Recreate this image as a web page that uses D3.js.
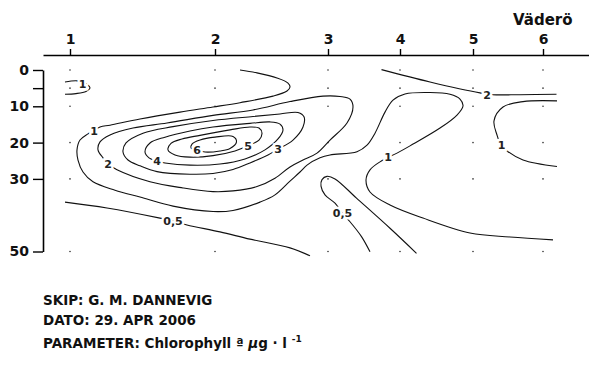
<!DOCTYPE html>
<html><head><meta charset="utf-8">
<script src="https://cdn.jsdelivr.net/npm/d3@7"></script>
<style>
html,body{margin:0;padding:0;background:#fff;}
svg{display:block;font-family:"DejaVu Sans",sans-serif;}
</style></head>
<body><svg id="c" width="589" height="367"></svg>
<script>
// ---- data ----
const stations = ["1","2","3","4","5","6"];
const stationDist = [0, 29, 51.6, 66, 80.6, 94.6];      // km along transect
const sampleDepths = [0, 5, 10, 20, 30, 50];             // m
const depthTicks = [0, 5, 10, 20, 30, 50];
const depthTickLabels = ["0", "", "10", "20", "30", "50"];
const stationName = "Väderö";

// contour lines as [distance km, depth m]
const c1Small = [[-1,3.3],[1.5,3.0],[2.6,3.6],[3.4,4.0],[4,4.9],[3.2,5.9],[1.2,6.5],[-1,6.7]];
const c1Main = [[34,0],[37.4,0.8],[41.4,2.2],[43.6,3.6],[44,4.7],[43.4,5.8],[40.6,7.2],[34,9.0],[28.6,10.2],[22,11.6],[14,13.5],[8,15.2],[6,15.7],[3.6,17.6],[2,19.3],[1.4,22],[1.6,24.8],[2.6,28.1],[4.6,30.8],[9,33.1],[14,35],[20.6,37.5],[28.6,39],[32.6,38.7],[38,36.4],[41,34.4],[44,30.6],[46,28.1],[47.4,26.2],[50,24.2],[52,23.4],[57.4,22.5],[59.4,20.7],[61,17.4],[63,11.6],[64.6,8.3],[67,6.6],[72,6.2],[76,6.7],[78,8.0],[78.6,9.9],[77.4,12.4],[74,16],[68,20.9],[65.4,22.9],[62,25.3],[60,27.5],[59.2,30.3],[60,33.6],[64,37.2],[70.6,40.8],[80,44.9],[88,46],[96.6,46.8]];
const c1Right = [[97.4,8.5],[90.6,8.7],[86.6,10.2],[84.8,14.0],[85.4,17.9],[86.2,20.7],[87.4,22.3],[90.6,24.8],[97.4,26.6]];
const c2Loop = [[7.6,25.9],[9.4,27.5],[16,30.8],[22.6,32.5],[28.6,33.5],[32.6,33.3],[37.4,32.1],[41,29.8],[44,26.7],[46.6,24.8],[49.4,22.9],[52,19.3],[55.4,14.6],[56.6,10.2],[56,8.0],[54,7.3],[50.6,7.2],[44,8.7],[36.6,11.0],[28.6,12.5],[19.4,14.6],[12.6,16.0],[8,17.9],[6,19.8],[5.6,22.0],[6.6,24.2]];
const c2Right = [[62.3,-0.1],[72,3.3],[82,6.3],[84.5,6.8],[90,6.8],[97.3,6.7]];
const c3Loop = [[41.6,21.8],[39.6,23.4],[36,25.6],[32.6,27.4],[28.6,28.5],[24,28.7],[17.4,28.0],[14,26.4],[11.6,24.8],[10.6,22.6],[11.2,20.1],[14.6,17.4],[20.6,15.6],[28.6,13.9],[36.6,12.8],[42,12.1],[45.6,11.7],[46.8,12.9],[46.6,15.7],[44.6,19.3]];
const c4Loop = [[17.4,25.1],[19,25.6],[24,26.2],[30,25.9],[35,24.5],[39,22.0],[41.6,19.0],[42.6,16.5],[42,14.9],[40,14.3],[36,14.7],[28.6,15.7],[24,16.8],[19,18.5],[16,20.1],[15,22.6],[15.8,24.2]];
const c5Loop = [[35.6,20.9],[33,22.3],[28.6,23.6],[24,24.0],[21,23.4],[19.6,22.0],[20.2,20.2],[22.4,19.0],[26,18.0],[32,16.5],[36,15.7],[37.8,16.0],[38.4,17.4],[37.8,19.3]];
const c6Loop = [[25.4,22.0],[27,22.6],[30,22.3],[32,21.6],[33.3,19.8],[32.6,18.3],[29,18.5],[26,19.3],[24.4,20.4],[24.2,21.5]];
const c05Main = [[-1,36.4],[7.4,38.0],[18,40.8],[20.6,41.6],[23.4,42.7],[30,44.6],[36,46.6],[44,49.0],[48,51.2]];
const c05Right = [[60,50.1],[58.3,45.9],[56,41.8],[54.5,39.5],[53,36.7],[51,34.4],[50.2,32],[50.4,30.2],[51.4,29.3],[53,30],[57.3,35.3],[64,43.6],[69.3,50.5]];

const openLines = [c1Small, c1Main, c1Right, c2Right, c05Main, c05Right];
const closedLines = [c2Loop, c3Loop, c4Loop, c5Loop, c6Loop];

// contour labels: [text, distance km, depth m]
const contourLabels = [
  ["1", 2.5, 3.8], ["1", 4.8, 16.8], ["1", 63.6, 24.0], ["1", 86.3, 20.7],
  ["2", 7.6, 25.9], ["2", 83.4, 6.8], ["3", 41.6, 21.8], ["4", 17.4, 25.1],
  ["5", 35.6, 21.0], ["6", 25.4, 22.0], ["0,5", 20.6, 41.6], ["0,5", 54.5, 39.5]
];

const infoLines = ["SKIP: G. M. DANNEVIG", "DATO: 29. APR 2006"];

// ---- drawing ----
const svg = d3.select("#c");
const x = d3.scaleLinear().domain([-5.4, 103.8]).range([43, 589]);
const y = d3.scaleLinear().domain([0, 50]).range([70, 251.5]);

// top axis
const topAxis = d3.axisTop(x).tickValues(stationDist)
  .tickFormat((d, i) => stations[i]).tickSize(6).tickSizeOuter(0).tickPadding(5);
const gt = svg.append("g").attr("transform", "translate(0,55)").call(topAxis);
gt.select(".domain").attr("stroke", "#000").attr("stroke-width", 1.6);
gt.selectAll(".tick line").attr("stroke", "#000").attr("stroke-width", 1.4);
gt.selectAll(".tick text").attr("fill", "#111").attr("font-size", 14).attr("font-weight", "bold")
  .attr("font-family", "DejaVu Sans");

svg.append("text").attr("x", x(stationDist[5]) - 30).attr("y", 25)
  .attr("font-size", 15).attr("font-weight", "bold").attr("fill", "#111").text(stationName);

// left axis
const leftAxis = d3.axisLeft(y).tickValues(depthTicks)
  .tickFormat((d, i) => depthTickLabels[i]).tickSize(10).tickSizeOuter(0).tickPadding(4);
const gl = svg.append("g").attr("transform", "translate(43,0)").call(leftAxis);
gl.select(".domain").attr("stroke", "#000").attr("stroke-width", 1.6);
gl.selectAll(".tick line").attr("stroke", "#000").attr("stroke-width", 1.4);
gl.selectAll(".tick text").attr("fill", "#111").attr("font-size", 14).attr("font-weight", "bold")
  .attr("font-family", "DejaVu Sans");

// sample dots
const dots = [];
stationDist.forEach(s => sampleDepths.forEach(dp => dots.push([s, dp])));
svg.append("g").selectAll("circle").data(dots).join("circle")
  .attr("cx", d => x(d[0])).attr("cy", d => y(d[1])).attr("r", 0.8).attr("fill", "#333");

// contours
const lineOpen = d3.line().x(d => x(d[0])).y(d => y(d[1])).curve(d3.curveCatmullRom.alpha(0.5));
const lineClosed = d3.line().x(d => x(d[0])).y(d => y(d[1])).curve(d3.curveCatmullRomClosed.alpha(0.5));
const gc = svg.append("g").attr("fill", "none").attr("stroke", "#111").attr("stroke-width", 1.1);
gc.selectAll("path.o").data(openLines).join("path").attr("class", "o").attr("d", lineOpen);
gc.selectAll("path.c").data(closedLines).join("path").attr("class", "c").attr("d", lineClosed);

// contour labels with white halo to break lines
svg.append("g").selectAll("text").data(contourLabels).join("text")
  .attr("x", d => x(d[1])).attr("y", d => y(d[2])).attr("dy", "0.36em")
  .attr("text-anchor", "middle").attr("font-size", 11).attr("font-weight", "bold")
  .attr("fill", "#222").attr("stroke", "#fff").attr("stroke-width", 5)
  .attr("paint-order", "stroke").text(d => d[0]);

// info text
const gi = svg.append("g").attr("font-size", 13.5).attr("font-weight", "bold").attr("fill", "#111");
gi.selectAll("text.l").data(infoLines).join("text").attr("class", "l")
  .attr("x", 43).attr("y", (d, i) => 305 + i * 20).text(d => d);
const pt = gi.append("text").attr("x", 43).attr("y", 348);
pt.append("tspan").text("PARAMETER: ");
pt.append("tspan").text("Chlorophyll ª ");
pt.append("tspan").attr("font-style", "italic").text("µ");
pt.append("tspan").text("g · l ");
pt.append("tspan").attr("font-size", 9).attr("dy", -6).text("-1");
</script></body></html>
